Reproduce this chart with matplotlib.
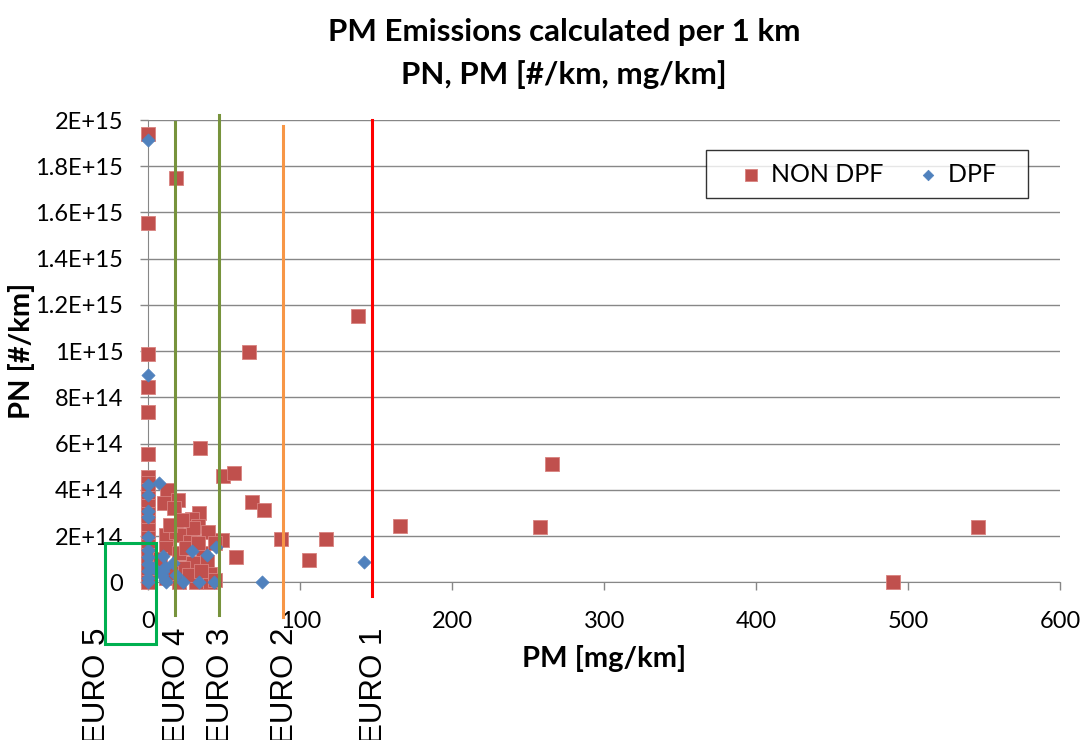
import matplotlib
matplotlib.use('Agg')
import matplotlib.pyplot as plt
from matplotlib.patches import Rectangle

# PM [mg/km] vs PN [#/km]
nondpf_x = [0, 18.4, 0, 138, 66, 0, 0, 0, 0, 34, 49.5, 56.5, 266, 68.5, 76,
            87.5, 117, 105.5, 166, 258, 546, 490, 57.5, 48.5,
            0, 0, 0, 0, 0, 0, 0, 0, 0, 0, 0, 0, 0, 0, 0,
            12.5, 10.3, 19.5, 17, 33.5, 28.5, 32.5, 39, 12, 18.5, 23, 29.5,
            27.5, 12, 20.5, 36, 38.5, 29.5, 23, 40.5, 12, 20.5, 31.5, 40.5,
            6, 8, 15, 27, 35, 44, 25, 33, 44, 14, 22]
nondpf_y = [19.4e14, 17.5e14, 15.55e14, 11.52e14, 9.96e14, 9.89e14, 8.46e14,
            7.37e14, 5.57e14, 5.83e14, 4.58e14, 4.72e14, 5.11e14, 3.46e14,
            3.14e14, 1.88e14, 1.87e14, 0.96e14, 2.45e14, 2.38e14, 2.38e14, 0,
            1.1e14, 1.83e14,
            4.56e14, 4.3e14, 4.0e14, 3.65e14, 3.3e14, 2.95e14, 2.6e14, 2.25e14,
            1.9e14, 1.55e14, 1.2e14, 0.85e14, 0.5e14, 0.2e14, 0,
            3.99e14, 3.43e14, 3.58e14, 3.22e14, 3.02e14, 2.75e14, 2.45e14,
            2.18e14, 2.04e14, 2.17e14, 2.04e14, 2.33e14, 1.76e14, 1.47e14,
            1.25e14, 1.25e14, 0.89e14, 0.82e14, 0.6e14, 0.38e14, 0.17e14, 0, 0, 0,
            0.6e14, 1.0e14, 0.4e14, 0.3e14, 0.5e14, 0.1e14, 1.5e14, 1.7e14,
            1.7e14, 2.5e14, 2.7e14]

dpf_x = [0, 0, 142, 0, 7, 0, 0, 0, 0, 0, 0, 0, 0, 0, 0,
         9.5, 11, 16.5, 12, 9, 10, 23, 29, 33.5, 38.5, 44.5, 43, 75, 11, 4, 18]
dpf_y = [19.13e14, 8.96e14, 0.88e14, 4.2e14, 4.31e14, 3.76e14, 3.1e14,
         2.83e14, 1.97e14, 1.4e14, 1.1e14, 0.8e14, 0.5e14, 0.2e14, 0,
         1.12e14, 0.67e14, 0.85e14, 0.02e14, 0.3e14, 0.5e14, 0, 1.36e14, 0,
         1.18e14, 1.52e14, 0, 0, 0.1e14, 0.6e14, 0.3e14]

# emission standard limits (vertical markers)
euro_names = ['EURO 4', 'EURO 3', 'EURO 2', 'EURO 1']
euro_x = [17.5, 46.3, 88.6, 147]
euro_top = [1.991e15, 2.023e15, 1.974e15, 2.0e15]
euro_bottom = [-0.141e15, -0.141e15, -0.149e15, -0.058e15]
euro_colors = ['#77933C', '#77933C', '#F79646', '#FF0000']

yticks = [0, 2e14, 4e14, 6e14, 8e14, 1e15, 1.2e15, 1.4e15, 1.6e15, 1.8e15, 2e15]
ytick_labels = ['0', '2E+14', '4E+14', '6E+14', '8E+14', '1E+15', '1.2E+15',
                '1.4E+15', '1.6E+15', '1.8E+15', '2E+15']
xticks = [0, 100, 200, 300, 400, 500, 600]

plt.rcParams['font.family'] = ['Lato', 'DejaVu Sans']

fig = plt.figure(figsize=(10.82, 7.4), dpi=100)
ax = fig.add_axes([0.1370, 0.2131, 0.8427, 0.6247])

ax.scatter(nondpf_x, nondpf_y, marker='s', s=100, color='#C0504D',
           edgecolors='#D9827F', linewidths=0.6, clip_on=False, zorder=3,
           label='NON DPF')
ax.scatter(dpf_x, dpf_y, marker='D', s=45, color='#4F81BD',
           edgecolors='#4F81BD', linewidths=0.5, clip_on=False, zorder=4,
           label='DPF   ')

for name, x, top, bot, c in zip(euro_names, euro_x, euro_top, euro_bottom, euro_colors):
    ax.plot([x, x], [bot, top], color=c, lw=2.2, clip_on=False, zorder=5)
    ax.text(x + 1.5, -0.097, name, transform=ax.get_xaxis_transform(),
            rotation=90, ha='center', va='top', fontsize=22.5,
            family='Liberation Sans', clip_on=False)

# euro 5 box around the origin
ax.add_patch(Rectangle((-28.5, -0.267e15), 33.6, 0.438e15, fill=False,
                       edgecolor='#00B050', lw=2.2, clip_on=False, zorder=6))
ax.text(-34, -0.097, 'EURO 5', transform=ax.get_xaxis_transform(),
        rotation=90, ha='center', va='top', fontsize=22.5,
        family='Liberation Sans', clip_on=False)

ax.set_xlim(0, 600)
ax.set_ylim(0, 2e15)
ax.set_xticks(xticks)
ax.set_xticklabels([str(t) for t in xticks], fontsize=17)
ax.set_yticks(yticks)
ax.set_yticklabels(ytick_labels, fontsize=17)
ax.tick_params(axis='both', colors='#878787', labelcolor='black', length=6, width=1)
ax.tick_params(axis='x', pad=15)
ax.tick_params(axis='y', pad=12)

ax.grid(axis='y', color='#878787', lw=1)
ax.set_axisbelow(True)
for s in ['top', 'right']:
    ax.spines[s].set_visible(False)
for s in ['left', 'bottom']:
    ax.spines[s].set_color('#878787')

ax.set_xlabel('PM [mg/km]', fontsize=21, fontweight='bold', labelpad=9)
ax.set_ylabel('PN [#/km]', fontsize=21, fontweight='bold', labelpad=0)
ax.set_title('PM Emissions calculated per 1 km\nPN, PM [#/km, mg/km]',
             fontsize=22.5, fontweight='bold', pad=26, linespacing=1.6, x=0.456)

leg = ax.legend(loc='upper right', bbox_to_anchor=(0.965, 0.935), ncol=2,
                fontsize=18, frameon=True, fancybox=False, edgecolor='black',
                handlelength=2.6, handletextpad=-0.5, columnspacing=0.5,
                borderpad=0.5, borderaxespad=0, markerscale=0.8)
leg.get_frame().set_linewidth(1.0)

fig.savefig('out.png', dpi=100)
